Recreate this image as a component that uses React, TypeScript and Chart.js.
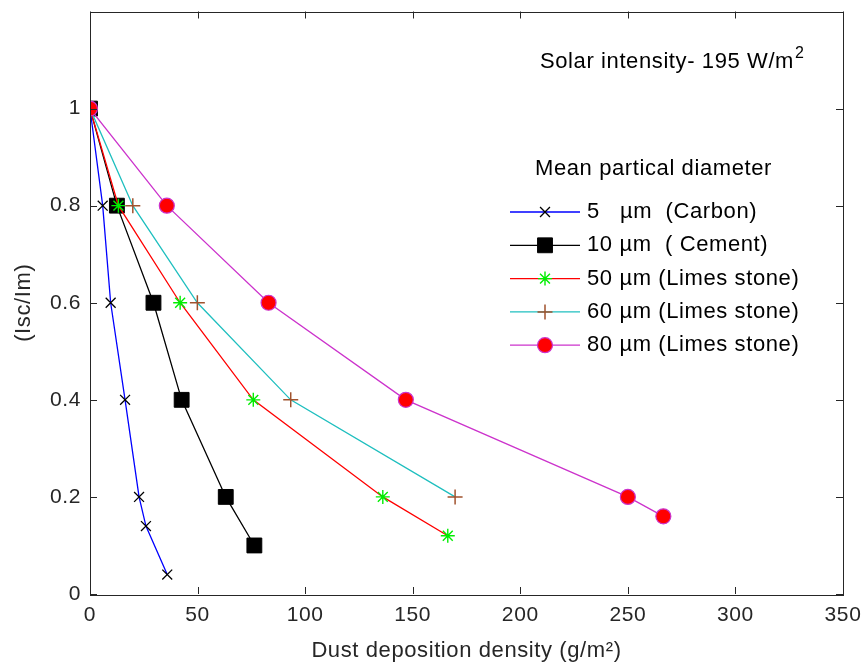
import React, { useEffect, useRef } from 'react';
import { Chart, registerables } from 'chart.js';

Chart.register(...registerables);

// ---- data ----
const xTickValues = [0, 50, 100, 150, 200, 250, 300, 350];
const yTickValues = [0, 0.2, 0.4, 0.6, 0.8, 1];

const carbonX = [0, 5.9, 9.6, 16.3, 22.8, 26, 35.9];
const carbonY = [1, 0.8, 0.6, 0.4, 0.2, 0.14, 0.04];
const cementX = [0, 12.5, 29.5, 42.6, 63.1, 76.4];
const cementY = [1, 0.8, 0.6, 0.4, 0.2, 0.1];
const lime50X = [0, 13.2, 41.9, 75.9, 136.1, 166.3];
const lime50Y = [1, 0.8, 0.6, 0.4, 0.2, 0.12];
const lime60X = [0, 19.9, 49.9, 93.3, 169.7];
const lime60Y = [1, 0.8, 0.6, 0.4, 0.2];
const lime80X = [0, 35.7, 83, 146.8, 250, 266.5];
const lime80Y = [1, 0.8, 0.6, 0.4, 0.2, 0.16];

const seriesLabels = [
  '5   \u00b5m  (Carbon)',
  '10 \u00b5m  ( Cement)',
  '50 \u00b5m (Limes stone)',
  '60 \u00b5m (Limes stone)',
  '80 \u00b5m (Limes stone)',
];
const legendTitle = 'Mean partical diameter';
const annotationText = 'Solar intensity- 195 W/m';
const annotationSup = '2';
const xTitle = 'Dust deposition density (g/m\u00b2)';
const yTitle = '(Isc/Im)';

const FONT = "'Liberation Sans', Arial, sans-serif";
const TEXT = '#262626';
const SPACING = '0.6px';

type Style = {
  line: string;
  pointStyle: string;
  radius: number;
  fill: string;
  stroke: string;
  pw: number;
};
const styles: Style[] = [
  { line: '#0000ff', pointStyle: 'crossRot', radius: 7, fill: '#000000', stroke: '#000000', pw: 1.3 },
  { line: '#000000', pointStyle: 'rect', radius: 10.5, fill: '#000000', stroke: '#000000', pw: 1 },
  { line: '#ff0000', pointStyle: 'star', radius: 7, fill: '#00ff00', stroke: '#00ee00', pw: 1.4 },
  { line: '#1fbfbf', pointStyle: 'cross', radius: 7.5, fill: '#a0522d', stroke: '#a0522d', pw: 1.5 },
  { line: '#cc33cc', pointStyle: 'circle', radius: 7.5, fill: '#ff0000', stroke: '#cc33cc', pw: 1.2 },
];

function zip(xs: number[], ys: number[]) {
  return xs.map((x, i) => ({ x, y: ys[i] }));
}

function drawMarker(ctx: CanvasRenderingContext2D, s: Style, x: number, y: number) {
  const r = s.radius;
  ctx.save();
  ctx.lineWidth = s.pw;
  ctx.strokeStyle = s.stroke;
  ctx.fillStyle = s.fill;
  ctx.beginPath();
  const c = Math.SQRT1_2 * r;
  switch (s.pointStyle) {
    case 'crossRot':
      ctx.moveTo(x - c, y - c); ctx.lineTo(x + c, y + c);
      ctx.moveTo(x - c, y + c); ctx.lineTo(x + c, y - c);
      ctx.stroke();
      break;
    case 'cross':
      ctx.moveTo(x - r, y); ctx.lineTo(x + r, y);
      ctx.moveTo(x, y - r); ctx.lineTo(x, y + r);
      ctx.stroke();
      break;
    case 'star':
      ctx.moveTo(x - r, y); ctx.lineTo(x + r, y);
      ctx.moveTo(x, y - r); ctx.lineTo(x, y + r);
      ctx.moveTo(x - c, y - c); ctx.lineTo(x + c, y + c);
      ctx.moveTo(x - c, y + c); ctx.lineTo(x + c, y - c);
      ctx.stroke();
      break;
    case 'rect':
      ctx.rect(x - c, y - c, 2 * c, 2 * c);
      ctx.fill();
      ctx.stroke();
      break;
    case 'circle':
      ctx.arc(x, y, r, 0, Math.PI * 2);
      ctx.fill();
      ctx.stroke();
      break;
  }
  ctx.restore();
}

const spacingPlugin = {
  id: 'spacing',
  beforeInit(chart: any) {
    try { (chart.ctx as any).letterSpacing = SPACING; } catch (e) { /* ignore */ }
  },
  beforeLayout(chart: any) {
    try { (chart.ctx as any).letterSpacing = SPACING; } catch (e) { /* ignore */ }
  },
  beforeDraw(chart: any) {
    try { (chart.ctx as any).letterSpacing = SPACING; } catch (e) { /* ignore */ }
  },
};

const framePlugin = {
  id: 'frameAndLegend',
  afterDatasetsDraw(chart: any) {
    const ctx: CanvasRenderingContext2D = chart.ctx;
    const { left, right, top, bottom } = chart.chartArea;
    const xs = chart.scales.x;
    const ys = chart.scales.y;
    ctx.save();
    // frame
    ctx.strokeStyle = TEXT;
    ctx.lineWidth = 1;
    ctx.strokeRect(Math.round(left) + 0.5, Math.round(top) + 0.5, Math.round(right - left), Math.round(bottom - top));
    // inward ticks
    const tl = 7;
    ctx.beginPath();
    xTickValues.forEach((v) => {
      const px = Math.round(xs.getPixelForValue(v)) + 0.5;
      ctx.moveTo(px, bottom); ctx.lineTo(px, bottom - tl);
      ctx.moveTo(px, top); ctx.lineTo(px, top + tl);
    });
    yTickValues.forEach((v) => {
      const py = Math.round(ys.getPixelForValue(v)) + 0.5;
      ctx.moveTo(left, py); ctx.lineTo(left + tl, py);
      ctx.moveTo(right, py); ctx.lineTo(right - tl, py);
    });
    ctx.stroke();

    // annotation
    ctx.fillStyle = '#000';
    ctx.font = `22px ${FONT}`;
    ctx.textBaseline = 'alphabetic';
    ctx.textAlign = 'left';
    const ax = 540, ay = 68;
    ctx.fillText(annotationText, ax, ay);
    const w = ctx.measureText(annotationText).width;
    ctx.font = `16px ${FONT}`;
    ctx.fillText(annotationSup, ax + w + 1, ay - 10);

    // legend
    ctx.font = `22px ${FONT}`;
    ctx.textBaseline = 'middle';
    ctx.fillText(legendTitle, 535, 169);
    chart.data.datasets.forEach((ds: any, i: number) => {
      const y = 212 + i * 33.3;
      ctx.save();
      ctx.strokeStyle = ds.borderColor;
      ctx.lineWidth = ds.borderWidth;
      ctx.beginPath();
      ctx.moveTo(510, y); ctx.lineTo(580, y);
      ctx.stroke();
      ctx.restore();
      drawMarker(ctx, styles[i], 545, y);
      ctx.fillStyle = '#000';
      ctx.fillText(ds.label, 587, y);
    });
    ctx.restore();
  },
};

export default function App() {
  const ref = useRef<HTMLCanvasElement | null>(null);
  useEffect(() => {
    if (!ref.current) return;
    const sets = [
      zip(carbonX, carbonY),
      zip(cementX, cementY),
      zip(lime50X, lime50Y),
      zip(lime60X, lime60Y),
      zip(lime80X, lime80Y),
    ];
    const chart = new Chart(ref.current, {
      type: 'scatter',
      data: {
        datasets: sets.map((d, i) => ({
          label: seriesLabels[i],
          data: d,
          showLine: true,
          borderColor: styles[i].line,
          borderWidth: 1.3,
          pointStyle: styles[i].pointStyle as any,
          pointRadius: styles[i].radius,
          pointBackgroundColor: styles[i].fill,
          pointBorderColor: styles[i].stroke,
          pointBorderWidth: styles[i].pw,
          order: 5 - i,
        })),
      },
      options: {
        animation: false,
        responsive: false,
        events: [],
        layout: { padding: { top: 10, right: 24, left: 0, bottom: 0 } },
        plugins: { legend: { display: false }, tooltip: { enabled: false } },
        scales: {
          x: {
            type: 'linear',
            min: 0,
            max: 350,
            grid: { display: false, drawTicks: false },
            border: { display: false },
            afterBuildTicks: (s: any) => { s.ticks = xTickValues.map((v) => ({ value: v })); },
            afterFit: (s: any) => { s.height = 77; s.paddingLeft = 0; s.paddingRight = 0; },
            ticks: {
              color: TEXT,
              font: { family: FONT, size: 21 },
              padding: 9,
              maxRotation: 0,
              autoSkip: false,
            },
            title: {
              display: true,
              text: xTitle,
              color: TEXT,
              font: { family: FONT, size: 22 },
              padding: { top: 0, bottom: 7 },
            },
          },
          y: {
            type: 'linear',
            min: 0,
            max: 1.2,
            grid: { display: false, drawTicks: false },
            border: { display: false },
            afterBuildTicks: (s: any) => { s.ticks = yTickValues.map((v) => ({ value: v })); },
            afterFit: (s: any) => { s.width = 90; s.paddingTop = 0; s.paddingBottom = 0; },
            ticks: {
              color: TEXT,
              font: { family: FONT, size: 21 },
              padding: 9,
              autoSkip: false,
              callback: (v: any) => String(Number(Number(v).toFixed(1))),
            },
            title: {
              display: true,
              text: yTitle,
              color: TEXT,
              font: { family: FONT, size: 22 },
              padding: { top: 11, bottom: 0 },
            },
          },
        },
      },
      plugins: [spacingPlugin, framePlugin],
    });
    return () => chart.destroy();
  }, []);
  return (
    <div style={{ position: 'absolute', left: 0, top: 0, width: 867, height: 671, background: '#fff' }}>
      <canvas ref={ref} width={867} height={671} style={{ display: 'block' }} />
    </div>
  );
}
